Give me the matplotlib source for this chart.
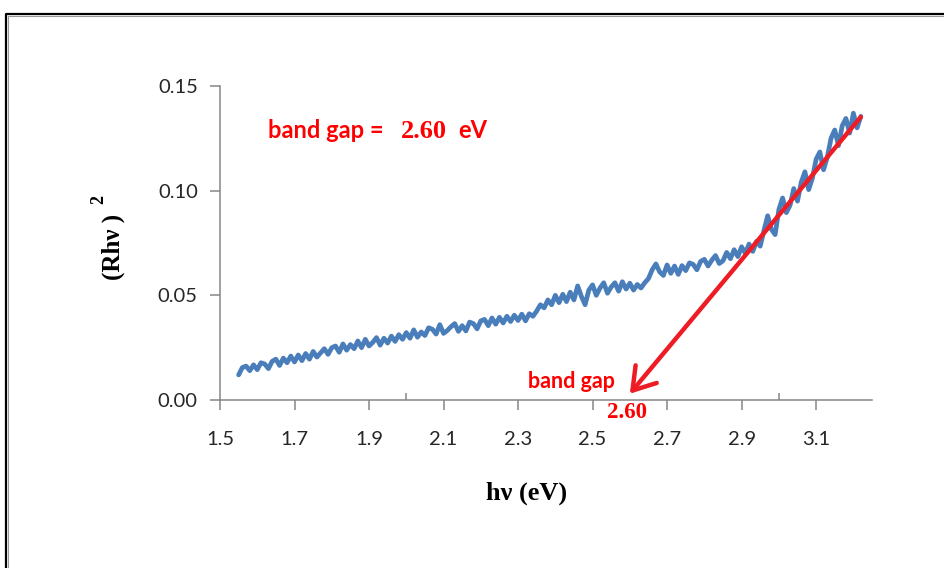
import numpy as np
import matplotlib
matplotlib.use("Agg")
import matplotlib.pyplot as plt
from matplotlib.lines import Line2D

# ---- data -------------------------------------------------------------
hv_start = 1.55          # first photon energy (eV)
hv_step = 0.01           # sampling step (eV)
rh2 = [
    0.0120, 0.0155, 0.0162, 0.0140, 0.0168, 0.0145, 0.0178, 0.0172, 0.0150, 0.0185,
    0.0195, 0.0165, 0.0200, 0.0178, 0.0210, 0.0182, 0.0215, 0.0188, 0.0222, 0.0195,
    0.0232, 0.0205, 0.0225, 0.0245, 0.0218, 0.0250, 0.0258, 0.0228, 0.0268, 0.0238,
    0.0265, 0.0245, 0.0282, 0.0250, 0.0290, 0.0258, 0.0275, 0.0298, 0.0262, 0.0295,
    0.0272, 0.0305, 0.0280, 0.0312, 0.0290, 0.0322, 0.0295, 0.0335, 0.0300, 0.0325,
    0.0308, 0.0345, 0.0338, 0.0315, 0.0360, 0.0318, 0.0332, 0.0350, 0.0365, 0.0328,
    0.0355, 0.0330, 0.0372, 0.0365, 0.0340, 0.0378, 0.0385, 0.0355, 0.0392, 0.0362,
    0.0395, 0.0368, 0.0400, 0.0375, 0.0405, 0.0380, 0.0410, 0.0378, 0.0412, 0.0400,
    0.0425, 0.0455, 0.0440, 0.0478, 0.0455, 0.0500, 0.0465, 0.0505, 0.0470, 0.0515,
    0.0478, 0.0545, 0.0495, 0.0455, 0.0525, 0.0550, 0.0500, 0.0535, 0.0560, 0.0510,
    0.0540, 0.0560, 0.0520, 0.0565, 0.0530, 0.0558, 0.0525, 0.0552, 0.0535, 0.0560,
    0.0580, 0.0622, 0.0650, 0.0612, 0.0595, 0.0645, 0.0605, 0.0640, 0.0600, 0.0642,
    0.0618, 0.0655, 0.0648, 0.0622, 0.0662, 0.0672, 0.0640, 0.0668, 0.0690, 0.0652,
    0.0665, 0.0705, 0.0675, 0.0718, 0.0685, 0.0732, 0.0700, 0.0745, 0.0710, 0.0758,
    0.0735, 0.0810, 0.0880, 0.0815, 0.0790, 0.0910, 0.0965, 0.0895, 0.0930, 0.1010,
    0.0950, 0.1040, 0.1090, 0.1005, 0.1060, 0.1150, 0.1185, 0.1100, 0.1160, 0.1250,
    0.1290, 0.1215, 0.1310, 0.1345, 0.1275, 0.1370, 0.1300, 0.1355,
]
hv = hv_start + hv_step * np.arange(len(rh2))

x_ticks = [1.5, 1.7, 1.9, 2.1, 2.3, 2.5, 2.7, 2.9, 3.1]
x_tick_labels = ["1.5", "1.7", "1.9", "2.1", "2.3", "2.5", "2.7", "2.9", "3.1"]
y_ticks = [0.00, 0.05, 0.10, 0.15]
y_tick_labels = ["0.00", "0.05", "0.10", "0.15"]

band_gap = 2.60                 # eV, where the linear fit meets the axis
fit_start = (3.22, 0.1352)      # upper end of the extrapolated line

# ---- styling ----------------------------------------------------------
BLUE = "#4A7EBB"
RED = "#EE1C24"
TXT_RED = "#FF0000"
AXIS_GREY = "#868686"
SANS = ["Lato", "DejaVu Sans"]
SERIF = ["Liberation Serif", "DejaVu Serif"]

W, H = 945, 568
fig = plt.figure(figsize=(W / 100, H / 100), dpi=100)
fig.patch.set_facecolor("white")


def fx(px):
    return px / W


def fy(py):
    return 1 - py / H


# outer frame (double line, open at right/bottom)
fig.add_artist(Line2D([fx(6.5), fx(6.5), fx(W + 5)], [fy(H + 5), fy(13.5), fy(13.5)],
                      transform=fig.transFigure, color="black", lw=1.6))
fig.add_artist(Line2D([fx(8.5), fx(8.5), fx(W + 5)], [fy(H + 5), fy(15.5), fy(15.5)],
                      transform=fig.transFigure, color="#9a9a9a", lw=0.8))

ax = fig.add_axes([fx(220), fy(400), fx(872) - fx(220), fy(86) - fy(400)])
ax.plot(hv, rh2, color=BLUE, lw=3.4, solid_joinstyle="round", solid_capstyle="round",
        zorder=2)

ax.set_xlim(1.5, 3.25)
ax.set_ylim(0, 0.15)
ax.set_xticks(x_ticks)
ax.set_xticklabels(x_tick_labels, fontfamily=SANS)
ax.set_yticks(y_ticks)
ax.set_yticklabels(y_tick_labels, fontfamily=SANS)
ax.set_xticks([2.0, 3.0], minor=True)

for side in ("top", "right"):
    ax.spines[side].set_visible(False)
for side in ("left", "bottom"):
    ax.spines[side].set_color(AXIS_GREY)
    ax.spines[side].set_linewidth(1.1)

ax.tick_params(axis="x", which="major", direction="out", length=7, width=1.1,
               color=AXIS_GREY, pad=15, labelsize=14.5, labelcolor="#262626")
ax.tick_params(axis="x", which="minor", direction="in", length=5, width=1.1,
               color=AXIS_GREY)
ax.tick_params(axis="y", which="major", direction="out", length=7, width=1.1,
               color=AXIS_GREY, pad=9, labelsize=14.5, labelcolor="#262626")

# extrapolated linear region down to the energy axis
ax.annotate("", xy=(band_gap, 0.003), xytext=fit_start,
            arrowprops=dict(arrowstyle="->,head_length=0.7,head_width=0.45",
                            color=RED, lw=3.2, shrinkA=0, shrinkB=0,
                            mutation_scale=22),
            annotation_clip=False, zorder=3)

# annotations
fig.text(fx(268), fy(131), "band gap =", color=TXT_RED, fontfamily=SANS,
         fontweight="bold", fontsize=17, ha="left", va="center")
fig.text(fx(401), fy(131), f"{band_gap:.2f}", color=TXT_RED, fontfamily=SERIF,
         fontweight="bold", fontsize=19, ha="left", va="center")
fig.text(fx(458), fy(131), "eV", color=TXT_RED, fontfamily=SANS,
         fontweight="bold", fontsize=17, ha="left", va="center")

fig.text(fx(528), fy(382), "band gap", color=TXT_RED, fontfamily=SANS,
         fontweight="bold", fontsize=15.5, ha="left", va="center")
fig.text(fx(627), fy(413), f"{band_gap:.2f}", color=TXT_RED, fontfamily=SERIF,
         fontweight="bold", fontsize=16.5, ha="center", va="center")

# axis titles
fig.text(fx(527), fy(493), "hν (eV)", color="black", fontfamily=SERIF,
         fontweight="bold", fontsize=19, ha="center", va="center")
fig.text(fx(113), fy(247), "(Rhν )", color="black", fontfamily=SERIF,
         fontweight="bold", fontsize=18, rotation=90, ha="center", va="center")
fig.text(fx(99), fy(200), "2", color="black", fontfamily=SERIF,
         fontweight="bold", fontsize=13, rotation=90, ha="center", va="center")

fig.savefig("out.png", dpi=100)
